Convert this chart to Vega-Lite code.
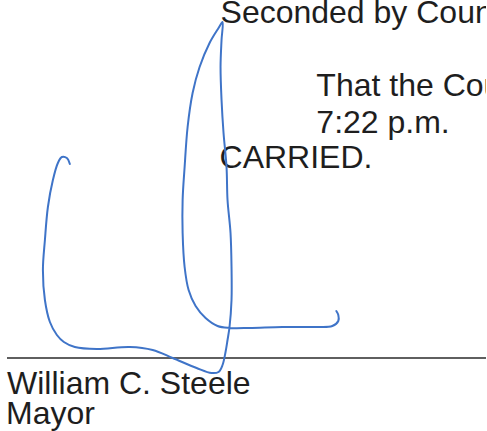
{
  "$schema": "https://vega.github.io/schema/vega-lite/v6.json",
  "width": 487,
  "height": 431,
  "padding": 0,
  "autosize": {"type": "fit", "contains": "padding"},
  "background": "white",
  "config": {"view": {"stroke": null}},
  "datasets": {
    "texts": [
      {"text": "Seconded by Councillor", "x": 221, "y": 23},
      {"text": "That the Council adjourn at", "x": 317, "y": 96},
      {"text": "7:22 p.m.", "x": 317, "y": 133},
      {"text": "CARRIED.", "x": 220, "y": 168},
      {"text": "William C. Steele", "x": 7, "y": 394},
      {"text": "Mayor", "x": 6, "y": 424}
    ],
    "rule": [{"x": 7, "x2": 487, "y": 358}],
    "sig": [
      {"i": 0, "x": 70, "y": 164}, {"i": 1, "x": 67, "y": 158}, {"i": 2, "x": 62, "y": 157},
      {"i": 3, "x": 58, "y": 163}, {"i": 4, "x": 53, "y": 180}, {"i": 5, "x": 48, "y": 207},
      {"i": 6, "x": 45, "y": 240}, {"i": 7, "x": 43, "y": 270}, {"i": 8, "x": 45, "y": 300},
      {"i": 9, "x": 50, "y": 322}, {"i": 10, "x": 57, "y": 335}, {"i": 11, "x": 64, "y": 342},
      {"i": 12, "x": 75, "y": 347}, {"i": 13, "x": 97, "y": 349}, {"i": 14, "x": 130, "y": 347},
      {"i": 15, "x": 153, "y": 350}, {"i": 16, "x": 173, "y": 358}, {"i": 17, "x": 197, "y": 368},
      {"i": 18, "x": 212, "y": 373}, {"i": 19, "x": 219, "y": 372}, {"i": 20, "x": 223, "y": 365},
      {"i": 21, "x": 226, "y": 352}, {"i": 22, "x": 228, "y": 340}, {"i": 23, "x": 230, "y": 327},
      {"i": 24, "x": 232, "y": 300}, {"i": 25, "x": 232, "y": 267}, {"i": 26, "x": 231, "y": 233},
      {"i": 27, "x": 228, "y": 200}, {"i": 28, "x": 227, "y": 167}, {"i": 29, "x": 224, "y": 133},
      {"i": 30, "x": 222, "y": 100}, {"i": 31, "x": 221, "y": 67}, {"i": 32, "x": 222, "y": 40},
      {"i": 33, "x": 223, "y": 22}, {"i": 34, "x": 219, "y": 28}, {"i": 35, "x": 210, "y": 43},
      {"i": 36, "x": 200, "y": 67}, {"i": 37, "x": 193, "y": 93}, {"i": 38, "x": 188, "y": 127},
      {"i": 39, "x": 185, "y": 167}, {"i": 40, "x": 183, "y": 200}, {"i": 41, "x": 183, "y": 233},
      {"i": 42, "x": 185, "y": 267}, {"i": 43, "x": 189, "y": 290}, {"i": 44, "x": 196, "y": 306},
      {"i": 45, "x": 206, "y": 318}, {"i": 46, "x": 218, "y": 326}, {"i": 47, "x": 230, "y": 328},
      {"i": 48, "x": 250, "y": 328}, {"i": 49, "x": 283, "y": 327}, {"i": 50, "x": 317, "y": 327},
      {"i": 51, "x": 333, "y": 326}, {"i": 52, "x": 339, "y": 321}, {"i": 53, "x": 339, "y": 315},
      {"i": 54, "x": 337, "y": 311}
    ]
  },
  "layer": [
    {
      "data": {"name": "rule"},
      "mark": {"type": "rule", "color": "#2a2a2a", "strokeWidth": 1.6},
      "encoding": {
        "x": {"field": "x", "type": "quantitative", "scale": {"domain": [0, 487], "nice": false, "zero": false}, "axis": null},
        "x2": {"field": "x2"},
        "y": {"field": "y", "type": "quantitative", "scale": {"domain": [0, 431], "nice": false, "zero": false, "reverse": true}, "axis": null}
      }
    },
    {
      "data": {"name": "texts"},
      "mark": {"type": "text", "align": "left", "baseline": "alphabetic", "font": "Liberation Sans", "fontSize": 32, "color": "#1e1e1e", "clip": true},
      "encoding": {
        "x": {"field": "x", "type": "quantitative"},
        "y": {"field": "y", "type": "quantitative"},
        "text": {"field": "text"}
      }
    },
    {
      "data": {"name": "sig"},
      "mark": {"type": "line", "color": "#3f74c8", "strokeWidth": 2, "interpolate": "catmull-rom", "strokeCap": "round", "strokeJoin": "round"},
      "encoding": {
        "x": {"field": "x", "type": "quantitative"},
        "y": {"field": "y", "type": "quantitative"},
        "order": {"field": "i", "type": "quantitative"}
      }
    }
  ]
}
